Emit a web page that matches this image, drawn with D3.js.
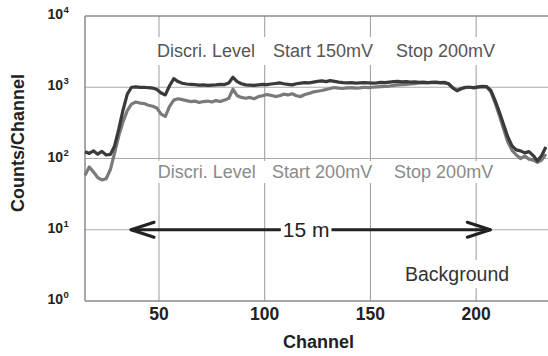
<!DOCTYPE html>
<html>
<head>
<meta charset="utf-8">
<script src="https://cdn.jsdelivr.net/npm/d3@7"></script>
<style>
  body { margin: 0; background: #fff; }
  svg { display: block; }
  text { font-family: "Liberation Sans", Arial, sans-serif; }
</style>
</head>
<body>
<svg id="chart" width="548" height="356"></svg>
<script>
// channel numbers (every second channel)
const channels = [15,17,19,21,23,25,27,29,31,33,35,37,39,41,43,45,47,49,51,53,55,57,59,61,63,65,67,69,71,73,75,77,79,81,83,85,87,89,91,93,95,97,99,101,103,105,107,109,111,113,115,117,119,121,123,125,127,129,131,133,135,137,139,141,143,145,147,149,151,153,155,157,159,161,163,165,167,169,171,173,175,177,179,181,183,185,187,189,191,193,195,197,199,201,203,205,207,209,211,213,215,217,219,221,223,225,227,229,231,233];

// Discri. level start 150mV / stop 200mV
const countsStart150 = [124,118,128,115,126,112,114,150,260,480,800,1000,1010,995,1000,985,975,930,830,780,1050,1320,1200,1140,1110,1100,1090,1070,1080,1060,1070,1080,1100,1090,1150,1380,1200,1120,1080,1070,1060,1080,1100,1090,1110,1130,1150,1120,1100,1080,1120,1140,1160,1150,1180,1210,1230,1200,1240,1210,1180,1160,1150,1160,1140,1150,1160,1150,1140,1150,1170,1160,1180,1200,1210,1190,1200,1180,1190,1170,1180,1160,1170,1180,1160,1170,1120,980,900,960,1000,1000,990,1010,1030,1020,900,650,450,300,200,150,132,128,120,125,110,92,110,145];

// Discri. level start 200mV / stop 200mV
const countsStart200 = [58,76,65,54,50,52,70,120,210,330,470,580,620,600,590,560,540,510,420,390,540,660,690,670,650,630,640,610,630,640,620,650,630,660,700,940,760,720,700,720,690,740,760,790,770,740,760,800,780,810,760,740,790,820,860,880,900,930,960,990,970,960,980,990,970,980,1000,990,1000,1010,1020,1030,1040,1060,1080,1090,1100,1110,1120,1150,1160,1150,1170,1160,1150,1160,1110,970,890,950,990,1000,980,1000,1020,1010,860,600,400,260,170,130,112,100,108,98,95,88,95,115];

const xTicks = [50, 100, 150, 200];
const yTicks = [1, 10, 100, 1000, 10000];
const upperLabels = [{ch: 49.1, text: "Discri. Level"}, {ch: 103.9, text: "Start 150mV"}, {ch: 162.1, text: "Stop 200mV"}];
const lowerLabels = [{ch: 49.4, text: "Discri. Level"}, {ch: 103.5, text: "Start 200mV"}, {ch: 161.2, text: "Stop 200mV"}];
const rangeArrow = {from: 36.8, to: 206.7, level: 10, label: "15 m", labelCh: 119.6};

const svg = d3.select('#chart');
const plotLeft = 85, plotRight = 548, plotTop = 16, plotBottom = 301;

const x = d3.scaleLinear().domain([15, 234]).range([plotLeft, plotRight]);
const y = d3.scaleLog().domain([1, 10000]).range([plotBottom, plotTop]);

// grid
const grid = svg.append('g');
grid.selectAll('line.v')
  .data(xTicks)
  .join('line')
  .attr('class', 'v')
  .attr('x1', d => x(d)).attr('x2', d => x(d))
  .attr('y1', plotTop).attr('y2', plotBottom)
  .attr('stroke', '#9a9a9a')
  .attr('stroke-width', 1);

grid.selectAll('line.h')
  .data(yTicks)
  .join('line')
  .attr('class', 'h')
  .attr('x1', plotLeft).attr('x2', plotRight)
  .attr('y1', d => y(d)).attr('y2', d => y(d))
  .attr('stroke', d => (d === 1 || d === 10000) ? '#8a8a8a' : '#aaa')
  .attr('stroke-width', d => (d === 1 || d === 10000) ? 1.5 : 1);

svg.append('line')
  .attr('x1', plotLeft).attr('x2', plotLeft)
  .attr('y1', plotTop).attr('y2', plotBottom)
  .attr('stroke', '#8a8a8a').attr('stroke-width', 1.5);

// text with white box behind, cuts gridlines
function boxedText(g, xp, yp, str, opts) {
  const t = g.append('text')
    .attr('x', xp).attr('y', yp)
    .attr('font-size', opts.size)
    .attr('fill', opts.color)
    .attr('text-anchor', opts.anchor || 'start')
    .text(str);
  const b = t.node().getBBox();
  const px = opts.padX == null ? 2 : opts.padX;
  const py = opts.padY == null ? 3 : opts.padY;
  g.insert('rect', () => t.node())
    .attr('x', b.x - px)
    .attr('y', b.y - py)
    .attr('width', b.width + 2 * px)
    .attr('height', b.height + 2 * py)
    .attr('fill', '#fff');
  return t;
}

const ann = svg.append('g');
upperLabels.forEach(d => boxedText(ann, x(d.ch), 57, d.text, {size: 18, color: '#555', padX: 10, padY: 4}));
lowerLabels.forEach(d => boxedText(ann, x(d.ch), 178, d.text, {size: 18, color: '#8a8a8a', padX: 10, padY: 1}));
boxedText(ann, 405, 281, "Background", {size: 19.5, color: '#333', padX: 2, padY: 3});

// series
const line = d3.line()
  .x((d, i) => x(channels[i]))
  .y(d => y(d))
  .curve(d3.curveLinear);

svg.append('path')
  .datum(countsStart200)
  .attr('d', line)
  .attr('fill', 'none')
  .attr('stroke', '#7a7a7a')
  .attr('stroke-width', 3.2)
  .attr('stroke-linejoin', 'round');

svg.append('path')
  .datum(countsStart150)
  .attr('d', line)
  .attr('fill', 'none')
  .attr('stroke', '#3a3a3a')
  .attr('stroke-width', 3.2)
  .attr('stroke-linejoin', 'round');

// 15 m arrow
const ay = y(rangeArrow.level);
const ax0 = x(rangeArrow.from), ax1 = x(rangeArrow.to);
const arr = svg.append('g')
  .attr('stroke', '#222').attr('stroke-width', 3).attr('fill', 'none')
  .attr('stroke-linecap', 'round').attr('stroke-linejoin', 'round');
arr.append('line')
  .attr('x1', ax0).attr('x2', ax1)
  .attr('y1', ay).attr('y2', ay);
arr.append('path')
  .attr('d', `M${ax0 + 23},${ay - 7.5}L${ax0},${ay}L${ax0 + 23},${ay + 7.5}`);
arr.append('path')
  .attr('d', `M${ax1 - 23},${ay - 7.5}L${ax1},${ay}L${ax1 - 23},${ay + 7.5}`);
boxedText(svg.append('g'), x(rangeArrow.labelCh), ay + 7.5, rangeArrow.label,
  {size: 21, color: '#222', anchor: 'middle', padX: 2, padY: 0});

// axes labels
const xl = svg.append('g').attr('font-weight', 'bold').attr('fill', '#222');
xl.selectAll('text')
  .data(xTicks)
  .join('text')
  .attr('x', d => x(d))
  .attr('y', 320)
  .attr('text-anchor', 'middle')
  .attr('font-size', 17.5)
  .text(d => d);

const yl = svg.append('g').attr('font-weight', 'bold').attr('fill', '#222');
yTicks.forEach(v => {
  yl.append('text')
    .attr('x', 63).attr('y', y(v) + 3)
    .attr('text-anchor', 'end')
    .attr('font-size', 14)
    .text('10');
  yl.append('text')
    .attr('x', 63.5).attr('y', y(v) - 3)
    .attr('font-size', 9.5)
    .text(Math.round(Math.log10(v)));
});

svg.append('text')
  .attr('x', (plotLeft + plotRight) / 2 + 2)
  .attr('y', 348)
  .attr('text-anchor', 'middle')
  .attr('font-size', 18)
  .attr('font-weight', 'bold')
  .attr('fill', '#222')
  .text('Channel');

svg.append('text')
  .attr('transform', `translate(24,${(73 + 213) / 2}) rotate(-90)`)
  .attr('text-anchor', 'middle')
  .attr('font-size', 18)
  .attr('font-weight', 'bold')
  .attr('fill', '#222')
  .text('Counts/Channel');
</script>
</body>
</html>
